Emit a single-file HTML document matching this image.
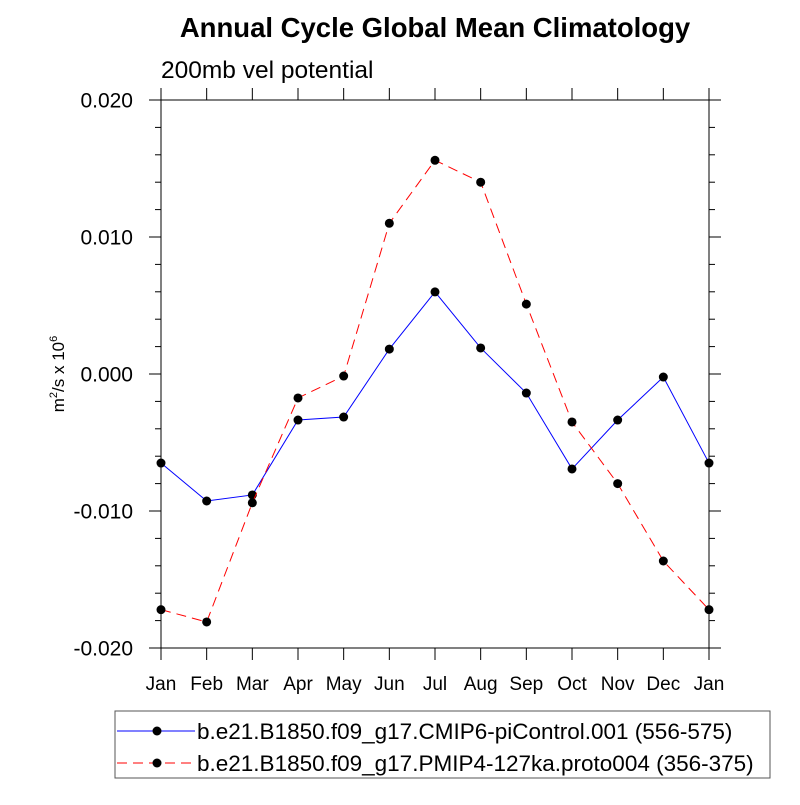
<!DOCTYPE html>
<html><head><meta charset="utf-8"><style>
body{margin:0;background:#fff}
svg text{font-family:"Liberation Sans",Arial,sans-serif;fill:#000}
</style></head><body>
<svg id="chart" width="800" height="800" xmlns="http://www.w3.org/2000/svg">
<text x="435" y="37" font-size="27.5" font-weight="bold" text-anchor="middle">Annual Cycle Global Mean Climatology</text>
<text x="161" y="78" font-size="24.5">200mb vel potential</text>
<text transform="translate(64,374) rotate(-90)" font-size="17" text-anchor="middle">m<tspan font-size="11" dy="-7">2</tspan><tspan dy="7">/s x 10</tspan><tspan font-size="11" dy="-7">6</tspan></text>
<g id="axes"></g>
<g id="series"></g>
<g>
<rect x="115" y="711" width="655" height="67" fill="none" stroke="#555" stroke-width="1"/>
<g>
<line x1="117" y1="731" x2="195" y2="731" stroke="#0000ff" stroke-width="1"/>
<circle cx="157" cy="731" r="4.5" fill="#000"/>
<text x="197" y="739" font-size="22.5">b.e21.B1850.f09_g17.CMIP6-piControl.001 (556-575)</text>
</g>
<g>
<line x1="117" y1="763" x2="195" y2="763" stroke="#ff0000" stroke-width="1" stroke-dasharray="10,6"/>
<circle cx="157" cy="763" r="4.5" fill="#000"/>
<text x="197" y="771" font-size="22.5">b.e21.B1850.f09_g17.PMIP4-127ka.proto004 (356-375)</text>
</g>
</g>
</svg>
<script>
const months=["Jan","Feb","Mar","Apr","May","Jun","Jul","Aug","Sep","Oct","Nov","Dec","Jan"];
const piControl=[-6.5,-9.27,-8.83,-3.36,-3.14,1.82,5.99,1.9,-1.39,-6.93,-3.36,-0.22,-6.5];
const ka127=[-17.2,-18.1,-9.4,-1.75,-0.15,11.0,15.6,14.0,5.1,-3.5,-8.0,-13.65,-17.2];
const yTicks=[-20,-10,0,10,20];
const yTickLabels=["-0.020","-0.010","0.000","0.010","0.020"];
const X0=161,X1=709,Y0=100,Y1=648,YMIN=-20,YMAX=20;
function xs(i){return X0+(X1-X0)*i/(months.length-1);}
function ys(v){return Y1-(v-YMIN)/(YMAX-YMIN)*(Y1-Y0);}
const NS="http://www.w3.org/2000/svg";
const axes=document.getElementById('axes'),ser=document.getElementById('series');
function mk(tag,attrs,parent){const e=document.createElementNS(NS,tag);for(const k in attrs)e.setAttribute(k,attrs[k]);parent.appendChild(e);return e;}
const frame=mk('rect',{x:X0,y:Y0,width:X1-X0,height:Y1-Y0,fill:'none',stroke:'#000','stroke-width':1},axes);


for(let v=YMIN;v<=YMAX;v+=2){
  const major=v%10===0,L=major?12:6,y=ys(v);
  mk('line',{x1:X0-L,y1:y,x2:X0,y2:y,stroke:'#000'},axes);
  mk('line',{x1:X1,y1:y,x2:X1+L,y2:y,stroke:'#000'},axes);
}
yTicks.forEach((v,i)=>{
  const t=mk('text',{x:X0-28,y:ys(v)+7.5,'font-size':21,'text-anchor':'end'},axes);
  t.textContent=yTickLabels[i];
  
  
});
months.forEach((m,i)=>{
  const x=xs(i);
  mk('line',{x1:x,y1:Y1,x2:x,y2:Y1+12,stroke:'#000'},axes);
  mk('line',{x1:x,y1:Y0-12,x2:x,y2:Y0,stroke:'#000'},axes);
  const t=mk('text',{x:x,y:Y1+42,'font-size':19,'text-anchor':'middle'},axes);
  t.textContent=m;
  
  
});
function draw(vals,color,dash,name){
  const g=mk('g',{},ser);
  
  
  const pts=vals.map((v,i)=>xs(i)+','+ys(v)).join(' ');
  const a={points:pts,fill:'none',stroke:color,'stroke-width':1};
  if(dash)a['stroke-dasharray']=dash;
  mk('polyline',a,g);
  vals.forEach((v,i)=>{
    const c=mk('circle',{cx:xs(i),cy:ys(v),r:4.5,fill:'#000'},g);
    
    
  });
}
draw(piControl,'#0000ff',null,'series-picontrol');
draw(ka127,'#ff0000','10,6','series-127ka');
</script>
</body></html>
